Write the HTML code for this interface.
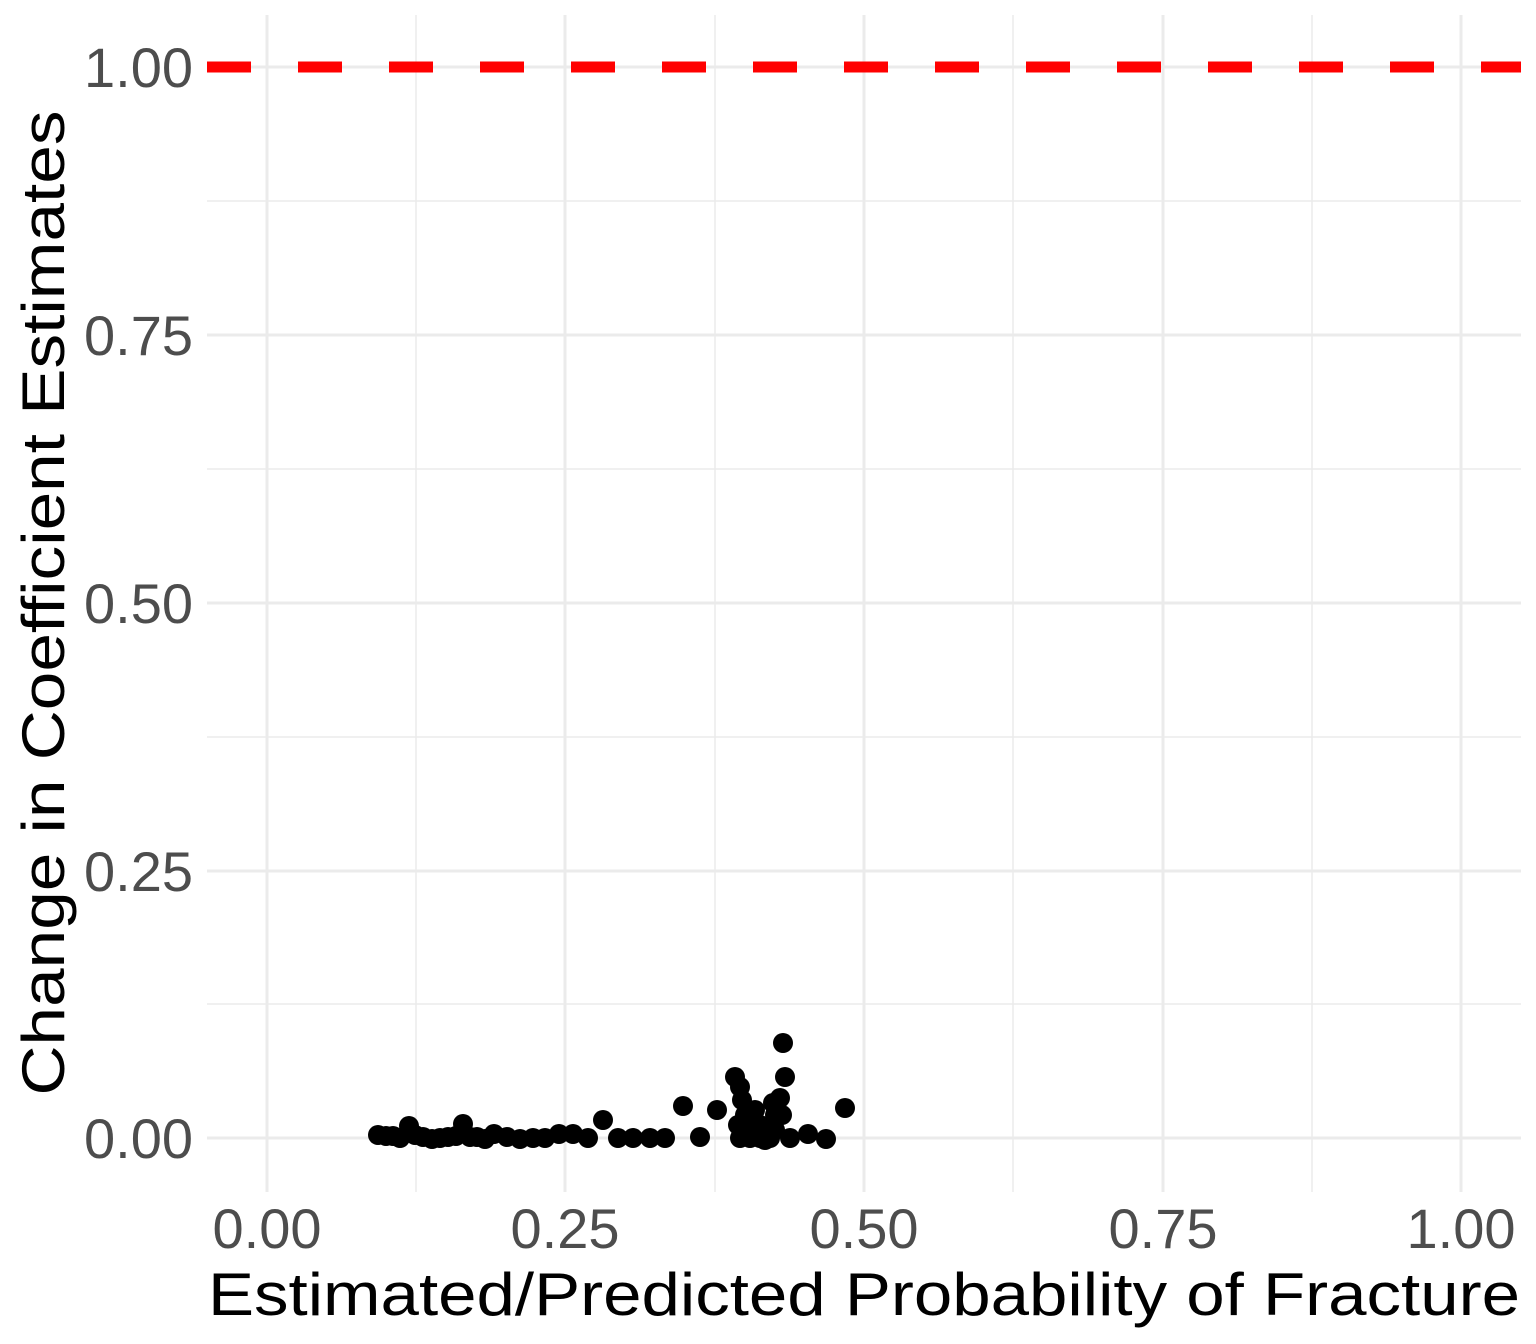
<!DOCTYPE html>
<html><head><meta charset="utf-8"><style>
html,body{margin:0;padding:0;background:#fff;}
svg{display:block;}
text{font-family:"Liberation Sans",Arial,sans-serif;}
</style></head><body>
<svg width="1536" height="1344" viewBox="0 0 1536 1344" xmlns="http://www.w3.org/2000/svg">
<rect width="1536" height="1344" fill="#fff"/>
<g stroke="#ebebeb" stroke-width="1.5">
<line x1="416" y1="15" x2="416" y2="1192"/><line x1="715" y1="15" x2="715" y2="1192"/><line x1="1013" y1="15" x2="1013" y2="1192"/><line x1="1312" y1="15" x2="1312" y2="1192"/>
<line x1="207" y1="1004" x2="1521" y2="1004"/><line x1="207" y1="737" x2="1521" y2="737"/><line x1="207" y1="469" x2="1521" y2="469"/><line x1="207" y1="201" x2="1521" y2="201"/>
</g>
<g stroke="#ebebeb" stroke-width="3">
<line x1="267" y1="15" x2="267" y2="1192"/><line x1="565" y1="15" x2="565" y2="1192"/><line x1="864" y1="15" x2="864" y2="1192"/><line x1="1163" y1="15" x2="1163" y2="1192"/><line x1="1461" y1="15" x2="1461" y2="1192"/>
<line x1="207" y1="1138" x2="1521" y2="1138"/><line x1="207" y1="871" x2="1521" y2="871"/><line x1="207" y1="603" x2="1521" y2="603"/><line x1="207" y1="335" x2="1521" y2="335"/><line x1="207" y1="67" x2="1521" y2="67"/>
</g>
<line x1="207" y1="67" x2="1521" y2="67" stroke="#ff0000" stroke-width="11" stroke-dasharray="44,47"/>
<g fill="#000">
<circle cx="378" cy="1135" r="10"/><circle cx="386" cy="1136" r="10"/><circle cx="393" cy="1136" r="10"/><circle cx="400" cy="1138" r="10"/><circle cx="409" cy="1126" r="10"/><circle cx="415" cy="1135" r="10"/><circle cx="423" cy="1137" r="10"/><circle cx="432" cy="1139" r="10"/><circle cx="440" cy="1138" r="10"/><circle cx="448" cy="1137" r="10"/><circle cx="456" cy="1136" r="10"/><circle cx="463" cy="1124" r="10"/><circle cx="470" cy="1137" r="10"/><circle cx="477" cy="1137" r="10"/><circle cx="485" cy="1139" r="10"/><circle cx="494" cy="1134" r="10"/><circle cx="507" cy="1137" r="10"/><circle cx="520" cy="1139" r="10"/><circle cx="533" cy="1138" r="10"/><circle cx="545" cy="1138" r="10"/><circle cx="559" cy="1134" r="10"/><circle cx="573" cy="1134" r="10"/><circle cx="588" cy="1138" r="10"/><circle cx="603" cy="1120" r="10"/><circle cx="618" cy="1138" r="10"/><circle cx="633" cy="1138" r="10"/><circle cx="650" cy="1138" r="10"/><circle cx="665" cy="1138" r="10"/><circle cx="683" cy="1106" r="10"/><circle cx="700" cy="1137" r="10"/><circle cx="717" cy="1110" r="10"/><circle cx="735" cy="1077" r="10"/><circle cx="740" cy="1087" r="10"/><circle cx="742" cy="1100" r="10"/><circle cx="745" cy="1115" r="10"/><circle cx="738" cy="1125" r="10"/><circle cx="740" cy="1138" r="10"/><circle cx="750" cy="1138" r="10"/><circle cx="760" cy="1138" r="10"/><circle cx="770" cy="1138" r="10"/><circle cx="775" cy="1130" r="10"/><circle cx="775" cy="1115" r="10"/><circle cx="773" cy="1103" r="10"/><circle cx="783" cy="1043" r="10"/><circle cx="785" cy="1077" r="10"/><circle cx="782" cy="1115" r="10"/><circle cx="790" cy="1138" r="10"/><circle cx="808" cy="1134" r="10"/><circle cx="826" cy="1139" r="10"/><circle cx="845" cy="1108" r="10"/><circle cx="760" cy="1125" r="10"/><circle cx="750" cy="1120" r="10"/><circle cx="765" cy="1140" r="10"/><circle cx="780" cy="1098" r="10"/><circle cx="755" cy="1110" r="10"/><circle cx="745" cy="1132" r="10"/>
</g>
<g fill="#4d4d4d" font-size="56" text-anchor="end">
<text x="193" y="1158">0.00</text><text x="193" y="891">0.25</text><text x="193" y="623">0.50</text><text x="193" y="355">0.75</text><text x="193" y="87">1.00</text>
</g>
<g fill="#4d4d4d" font-size="56" text-anchor="middle">
<text x="267" y="1248">0.00</text><text x="565" y="1248">0.25</text><text x="864" y="1248">0.50</text><text x="1163" y="1248">0.75</text><text x="1461" y="1248">1.00</text>
</g>
<text x="864" y="1315" font-size="60" text-anchor="middle" fill="#000" textLength="1312" lengthAdjust="spacingAndGlyphs">Estimated/Predicted Probability of Fracture</text>
<text transform="translate(64,603) rotate(-90)" font-size="60" text-anchor="middle" fill="#000" textLength="985" lengthAdjust="spacingAndGlyphs">Change in Coefficient Estimates</text>
</svg>
</body></html>
